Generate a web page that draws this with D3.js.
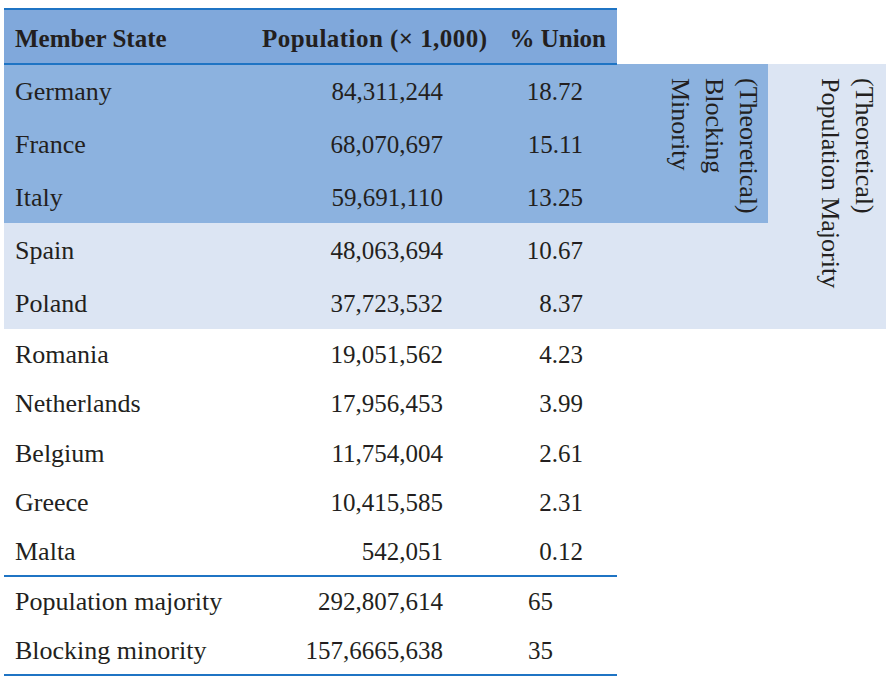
<!DOCTYPE html>
<html>
<head>
<meta charset="utf-8">
<script src="https://cdn.jsdelivr.net/npm/d3@7"></script>
<style>
  html, body { margin: 0; padding: 0; background: #fff; }
  svg text { font-family: "Liberation Serif", "Times New Roman", serif; fill: #231f20; }
</style>
</head>
<body>
<svg id="chart" width="894" height="682"></svg>
<script>
// ---- data ----
const headers = ["Member State", "Population (\u00d7 1,000)", "% Union"];
const topStates = ["Germany", "France", "Italy", "Spain", "Poland"];
const topPopulation = [84311244, 68070697, 59691110, 48063694, 37723532];
const topPct = [18.72, 15.11, 13.25, 10.67, 8.37];
const restStates = ["Romania", "Netherlands", "Belgium", "Greece", "Malta"];
const restPopulation = [19051562, 17956453, 11754004, 10415585, 542051];
const restPct = [4.23, 3.99, 2.61, 2.31, 0.12];
const totalLabels = ["Population majority", "Blocking minority"];
const totalPopulation = ["292,807,614", "157,6665,638"];
const totalPct = [65, 35];
const blockingStates = ["Germany", "France", "Italy"];
const blockingLabel = ["(Theoretical)", "Blocking", "Minority"];
const majorityLabel = ["(Theoretical)", "Population Majority"];

// ---- layout ----
const svg = d3.select("#chart");
const nameSize = 26, numSize = 25, headSize = 25;
const lineColor = "#1f74c4";
const headerFill = "#80a8db";
const darkFill = "#8cb2df";
const lightFill = "#dce5f3";

const tableLeft = 4, tableRight = 617;
const headerTop = 9, headerBottom = 64;

const yTop = d3.scaleBand().domain(topStates).range([headerBottom, 329]);
const yRest = d3.scaleBand().domain(restStates).range([329, 576]);
const yTotal = d3.scaleBand().domain(totalLabels).range([576, 675]);

const colX = { name: 15, pop: 443, pct: 583, pctTotal: 528 };
const fmtPop = d3.format(",");
const fmtPct = d3.format(".2f");

// backgrounds
svg.append("rect")
  .attr("x", tableLeft).attr("y", headerTop)
  .attr("width", tableRight - tableLeft).attr("height", headerBottom - headerTop)
  .attr("fill", headerFill);

svg.append("rect")
  .attr("x", tableLeft).attr("y", yTop.range()[0])
  .attr("width", 886 - tableLeft).attr("height", yTop.range()[1] - yTop.range()[0])
  .attr("fill", lightFill);

const darkTop = yTop(blockingStates[0]);
const darkBottom = yTop(blockingStates[blockingStates.length - 1]) + yTop.bandwidth();
svg.append("rect")
  .attr("x", tableLeft).attr("y", darkTop)
  .attr("width", 768 - tableLeft).attr("height", darkBottom - darkTop)
  .attr("fill", darkFill);

// header text
const headerY = 47;
svg.append("text").attr("x", colX.name).attr("y", headerY)
  .attr("font-size", headSize).attr("font-weight", "bold").text(headers[0]);
svg.append("text").attr("x", 487).attr("y", headerY).attr("text-anchor", "end")
  .attr("font-size", headSize).attr("font-weight", "bold")
  .attr("textLength", 225).attr("lengthAdjust", "spacing").text(headers[1]);
svg.append("text").attr("x", 606).attr("y", headerY).attr("text-anchor", "end")
  .attr("font-size", headSize).attr("font-weight", "bold").text(headers[2]);

// rows
function drawRows(scale, names, pops, pcts, popFmt, pctFmt, pctX, pctAnchor) {
  const g = svg.append("g");
  const rows = g.selectAll("g.row").data(names.map((n, i) => ({ n, p: pops[i], c: pcts[i] })))
    .join("g").attr("class", "row")
    .attr("transform", d => `translate(0,${scale(d.n) + scale.bandwidth() / 2 + 9})`);
  rows.append("text").attr("x", colX.name).attr("font-size", nameSize).text(d => d.n);
  rows.append("text").attr("x", colX.pop).attr("text-anchor", "end")
    .attr("font-size", numSize).text(d => popFmt(d.p));
  rows.append("text").attr("x", pctX).attr("text-anchor", pctAnchor)
    .attr("font-size", numSize).text(d => pctFmt(d.c));
}
drawRows(yTop, topStates, topPopulation, topPct, fmtPop, fmtPct, colX.pct, "end");
drawRows(yRest, restStates, restPopulation, restPct, fmtPop, fmtPct, colX.pct, "end");
drawRows(yTotal, totalLabels, totalPopulation, totalPct, d => d, d => d, colX.pctTotal, "start");

// rules
[headerTop, headerBottom, yTotal.range()[0], yTotal.range()[1]].forEach(y => {
  svg.append("line").attr("x1", tableLeft).attr("x2", tableRight)
    .attr("y1", y).attr("y2", y)
    .attr("stroke", lineColor).attr("stroke-width", 2);
});

// rotated group labels
function rotatedLabel(lines, firstBaselineX, topY, spacing) {
  lines.forEach((t, i) => {
    svg.append("text")
      .attr("transform", `translate(${firstBaselineX - i * spacing},${topY}) rotate(90)`)
      .attr("font-size", nameSize).text(t);
  });
}
rotatedLabel(blockingLabel, 740, 78, 34);
rotatedLabel(majorityLabel, 856, 78, 34);
</script>
</body>
</html>
